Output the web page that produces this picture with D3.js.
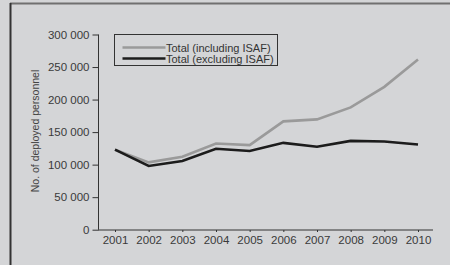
<!DOCTYPE html>
<html>
<head>
<meta charset="utf-8">
<script src="https://cdn.jsdelivr.net/npm/d3@7"></script>
<style>
  html, body { margin: 0; padding: 0; background: #d4d5d7; }
  svg { display: block; font-family: "Liberation Sans", Arial, sans-serif; }
</style>
</head>
<body>
<div id="chart"></div>
<script>
  const width = 450, height = 265;

  const years = [2001, 2002, 2003, 2004, 2005, 2006, 2007, 2008, 2009, 2010];
  const including = [123000, 103500, 112000, 132500, 130000, 166500, 169500, 188000, 219500, 261500];
  const excluding = [123000, 98000, 105500, 124500, 121000, 133500, 127500, 136500, 135500, 131000];
  const yTicks = [0, 50000, 100000, 150000, 200000, 250000, 300000];

  const svg = d3.select('#chart')
    .append('svg')
    .attr('width', width)
    .attr('height', height);

  svg.append('rect')
    .attr('width', width).attr('height', height)
    .attr('fill', '#d4d5d7');

  // outer frame (only top and left edges are visible)
  svg.append('line').attr('x1', 10).attr('x2', width).attr('y1', 3.5).attr('y2', 3.5)
    .attr('stroke', '#707070').attr('stroke-width', 2);
  svg.append('line').attr('x1', 10.5).attr('x2', 10.5).attr('y1', 3).attr('y2', height)
    .attr('stroke', '#333').attr('stroke-width', 2);

  const x = d3.scalePoint().domain(years).range([115, 418]);
  const y = d3.scaleLinear().domain([0, 300000]).range([229.7, 34.5]);
  const fmt = d => d3.format(',')(d).replace(/,/g, ' ');

  // y axis
  const yAxis = svg.append('g').attr('transform', 'translate(98.5,0)')
    .call(d3.axisLeft(y).tickValues(yTicks).tickFormat(fmt).tickSize(6).tickPadding(3));
  yAxis.select('.domain').attr('stroke', '#333').attr('d', `M0,${y(300000)}V${y(0)}`);
  yAxis.selectAll('.tick line').attr('stroke', '#333');
  yAxis.selectAll('text').attr('fill', '#3a3a3a').style('font-size', '11.5px');

  // x axis
  const xAxis = svg.append('g').attr('transform', 'translate(0,230)')
    .call(d3.axisBottom(x).tickSize(2).tickPadding(4));
  xAxis.select('.domain').attr('stroke', '#333').attr('d', 'M98,0H433');
  xAxis.selectAll('.tick line').attr('stroke', '#333');
  xAxis.selectAll('text').attr('fill', '#3a3a3a').style('font-size', '11.5px');

  svg.append('text')
    .attr('transform', 'translate(39,131) rotate(-90)')
    .attr('text-anchor', 'middle')
    .attr('fill', '#444')
    .style('font-size', '10.5px')
    .text('No. of deployed personnel');

  const line = d3.line().x((d, i) => x(years[i])).y(d => y(d));

  svg.append('path').datum(including)
    .attr('d', line).attr('fill', 'none')
    .attr('stroke', '#9a9a9a').attr('stroke-width', 2.6);
  svg.append('path').datum(excluding)
    .attr('d', line).attr('fill', 'none')
    .attr('stroke', '#1c1c1c').attr('stroke-width', 2.6);

  // legend
  const legend = svg.append('g');
  legend.append('rect')
    .attr('x', 114.5).attr('y', 34.5).attr('width', 163).attr('height', 31)
    .attr('fill', 'none').attr('stroke', '#333').attr('stroke-width', 1);
  const items = [
    { label: 'Total (including ISAF)', color: '#9a9a9a', yy: 47.5 },
    { label: 'Total (excluding ISAF)', color: '#1c1c1c', yy: 58.5 }
  ];
  items.forEach(it => {
    legend.append('line').attr('x1', 122.5).attr('x2', 165.5)
      .attr('y1', it.yy).attr('y2', it.yy)
      .attr('stroke', it.color).attr('stroke-width', 2.6);
    legend.append('text').attr('x', 166).attr('y', it.yy + 4)
      .attr('fill', '#333').style('font-size', '11px')
      .text(it.label);
  });
</script>
</body>
</html>
